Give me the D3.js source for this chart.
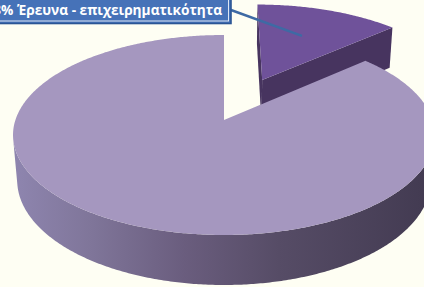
<!DOCTYPE html>
<html><head><meta charset="utf-8">
<script src="https://cdn.jsdelivr.net/npm/d3@7"></script>
<style>html,body{margin:0;padding:0;background:#fefef3;}svg{display:block;}</style>
</head><body>
<svg id="chart" width="424" height="287"></svg>
<script>
// ---- data ----
const categories = ["Έρευνα - επιχειρηματικότητα", "Λοιπά"];
const values = [13.4, 86.6];
const explode = [0.477, 0];
const topColors = ["#6f529a", "#a597bf"];
const sideColors = ["#47345f", "#6c6082"];

// ---- projection (3D pie with perspective) ----
const cam = {cx: 224, cy: 120, f: 1228, D: 5.887, s: 0.4686, c: 0.883};
const thick = 0.2485;
const rScale = d3.scaleLinear().domain([0, 1]).range([0, 1]);
function proj(X, H, Z) {
  const yp = Z * cam.s - H * cam.c;
  const d = Z * cam.c + H * cam.s;
  const k = cam.f / (cam.D - d);
  return [cam.cx + X * k, cam.cy + yp * k];
}
// d3 angle (0 = 12 o'clock, clockwise) -> theta (0 = right, positive toward viewer)
const toTheta = d3.scaleLinear().domain([0, Math.PI * 2]).range([-Math.PI / 2, Math.PI * 1.5]);

const svg = d3.select("#chart");
svg.append("rect").attr("width", 424).attr("height", 287).attr("fill", "#fefef3");

const defs = svg.append("defs");
const g1 = defs.append("linearGradient").attr("id", "sideGrad")
  .attr("gradientUnits", "userSpaceOnUse").attr("x1", 10).attr("x2", 424).attr("y1", 0).attr("y2", 0);
[[0, "#8f86b0"], [0.2, "#7f7599"], [0.42, "#6a5d7e"], [0.65, "#564c66"], [1, "#433b52"]]
  .forEach(([o, c]) => g1.append("stop").attr("offset", o).attr("stop-color", c));

const pie = d3.pie().sort(null).startAngle(0).endAngle(Math.PI * 2);
const arcs = pie(values);
const line = d3.line();

function sliceGeom(a, i) {
  const t0 = toTheta(a.startAngle), t1 = toTheta(a.endAngle);
  const tm = (t0 + t1) / 2;
  const e = explode[i];
  const ox = e * Math.cos(tm), oz = e * Math.sin(tm);
  const R = rScale(1);
  const n = Math.max(8, Math.ceil((t1 - t0) / 0.01));
  const ts = d3.range(n + 1).map(j => t0 + (t1 - t0) * j / n);
  const rim = (t, H, r = R) => proj(ox + r * Math.cos(t), H, oz + r * Math.sin(t));
  const ctr = H => proj(ox, H, oz);
  return {t0, t1, tm, ts, rim, ctr};
}

function drawSlice(a, i) {
  const G = sliceGeom(a, i);
  const g = svg.append("g");
  // outer side: only front-facing part
  const vis = [];
  for (let j = 0; j < G.ts.length - 1; j++) {
    const p0 = G.rim(G.ts[j], 0), p1 = G.rim(G.ts[j + 1], 0), p2 = G.rim(G.ts[j], -thick);
    const cross = (p1[0] - p0[0]) * (p2[1] - p0[1]) - (p1[1] - p0[1]) * (p2[0] - p0[0]);
    vis.push(cross < 0);
  }
  let runs = [], cur = null;
  vis.forEach((v, j) => {
    if (v) { if (!cur) { cur = [j, j + 1]; runs.push(cur); } else cur[1] = j + 1; }
    else cur = null;
  });
  runs.forEach(([j0, j1]) => {
    const tt = G.ts.slice(j0, j1 + 1);
    const pts = tt.map(t => G.rim(t, 0)).concat(tt.slice().reverse().map(t => G.rim(t, -thick)));
    g.append("path").attr("d", line(pts) + "Z").attr("fill", i === 1 ? "url(#sideGrad)" : sideColors[i]);
  });
  // radial faces (visible if front-facing)
  [[G.t0, 1], [G.t1, -1]].forEach(([t, dir]) => {
    const q = [G.ctr(0), G.rim(t, 0), G.rim(t, -thick), G.ctr(-thick)];
    const cross = (q[1][0] - q[0][0]) * (q[3][1] - q[0][1]) - (q[1][1] - q[0][1]) * (q[3][0] - q[0][0]);
    if (cross * dir < -1) g.append("path").attr("d", line(q) + "Z").attr("fill", sideColors[i]);
  });
  // top face
  const topPts = [G.ctr(0)].concat(G.ts.map(t => G.rim(t, 0)));
  g.append("path").attr("d", line(topPts) + "Z").attr("fill", topColors[i]);
  return G;
}

// back slice (small exploded) first, then the large slice
const Gs = drawSlice(arcs[0], 0);
drawSlice(arcs[1], 1);

// ---- label with leader ----
const anchorPt = Gs.rim(Gs.tm - 0.02, 0, 0.6);
svg.append("line").attr("x1", 231).attr("y1", 10).attr("x2", anchorPt[0]).attr("y2", anchorPt[1])
  .attr("stroke", "#3e6aa4").attr("stroke-width", 2.5);

svg.append("rect").attr("x", -20).attr("y", -6).attr("width", 251).attr("height", 29.5)
  .attr("fill", "#4672b8").attr("stroke", "#2b5594").attr("stroke-width", 1.6);
svg.append("rect").attr("x", -20).attr("y", -6).attr("width", 248.5).attr("height", 27)
  .attr("fill", "none").attr("stroke", "#dde6f4").attr("stroke-width", 1);

const pct = Math.round(values[0] / d3.sum(values) * 100) + "%";
const fontFam = "'Open Sans', 'DejaVu Sans', sans-serif";
const probe = svg.append("text").attr("font-family", fontFam).attr("font-weight", "bold")
  .attr("font-size", 12).text("% " + categories[0]);
const w12 = probe.node().getComputedTextLength();
probe.remove();
const fs = 12 * 221 / w12;
svg.append("text").attr("x", 222).attr("y", 15).attr("text-anchor", "end")
  .attr("font-family", fontFam).attr("font-weight", "bold").attr("font-size", fs)
  .attr("fill", "#ffffff").text(pct + " " + categories[0]);
</script>
</body></html>
